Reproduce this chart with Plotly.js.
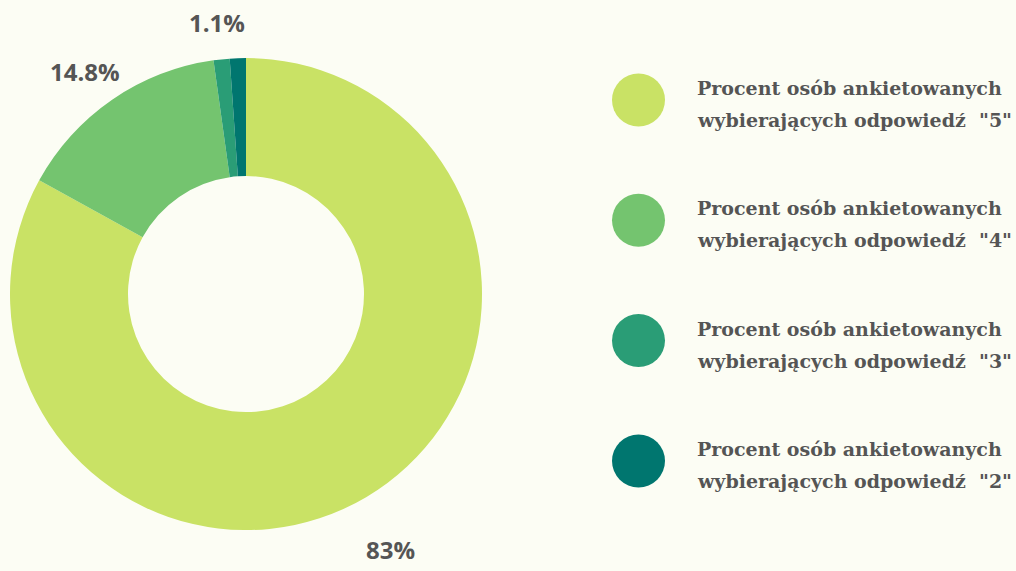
<!DOCTYPE html>
<html>
<head>
<meta charset="utf-8">
<script src="https://cdn.plot.ly/plotly-3.0.1.min.js"></script>
<style>html,body{margin:0;padding:0;background:#FCFDF4;}#chart{width:1016px;height:571px;}</style>
</head>
<body>
<div id="chart"></div>
<script>
const categories = [
  'Procent osób ankietowanych<br>wybierających odpowiedź  "5"',
  'Procent osób ankietowanych<br>wybierających odpowiedź  "4"',
  'Procent osób ankietowanych<br>wybierających odpowiedź  "3"',
  'Procent osób ankietowanych<br>wybierających odpowiedź  "2"'
];
const values = [83, 14.8, 1.1, 1.1];
const sliceLabels = ['83%', '14.8%', '1.1%', ''];
const colors = ['#C9E265', '#74C46F', '#2A9D76', '#00766F'];

const W = 1016, H = 571;
const domX = [10 / W, 482 / W], domY = [0.0, 0.97];
const trace = {
  type: 'pie',
  labels: categories,
  values: values,
  textinfo: 'none',
  hole: 0.5,
  sort: false,
  direction: 'clockwise',
  rotation: 0,
  marker: {colors: colors, line: {width: 0}},
  showlegend: false,
  domain: {x: domX, y: domY},
  hoverinfo: 'none'
};

const shapes = [];
const annotations = [];

// slice labels placed outside the ring at each slice's mid-angle (derived from values)
const total = values.reduce((a, b) => a + b, 0);
const cxPx = (domX[0] + domX[1]) / 2 * W;
const cyPx = (1 - (domY[0] + domY[1]) / 2) * H;
const labelR = 284;
let cum = 0;
values.forEach((v, i) => {
  const th = 2 * Math.PI * (cum + v / 2) / total;
  cum += v;
  if (!sliceLabels[i]) return;
  const xPx = cxPx + labelR * Math.sin(th);
  const yPx = cyPx - labelR * Math.cos(th);
  annotations.push({
    xref: 'paper', yref: 'paper', x: xPx / W, y: 1 - yPx / H,
    xanchor: 'center', yanchor: 'middle', showarrow: false, yshift: -11,
    text: sliceLabels[i],
    font: {family: 'Open Sans', size: 24, color: '#555555', weight: 'bold'}
  });
});

categories.forEach((c, i) => {
  const cyL = 100 + i * 120.3;
  const cy = 1 - cyL / H;
  shapes.push({
    type: 'circle', xref: 'paper', yref: 'paper',
    x0: 612 / W, x1: 665 / W, y0: cy - 26.5 / H, y1: cy + 26.5 / H,
    fillcolor: colors[i], line: {width: 0}
  });
  const lines = c.split('<br>');
  lines.forEach((ln, j) => {
    annotations.push({
      xref: 'paper', yref: 'paper', x: 695 / W, y: 1 - (cyL - 12 + j * 32) / H,
      xanchor: 'left', yanchor: 'middle',
      text: ln, showarrow: false, align: 'left',
      font: {family: 'DejaVu Serif', size: 19, color: '#555555', weight: 'bold'}
    });
  });
});

const layout = {
  width: W, height: H,
  margin: {l: 0, r: 0, t: 0, b: 0},
  paper_bgcolor: '#FCFDF4',
  plot_bgcolor: '#FCFDF4',
  shapes: shapes,
  annotations: annotations,
  showlegend: false
};

Plotly.newPlot('chart', [trace], layout, {displayModeBar: false, staticPlot: true});
</script>
</body>
</html>
